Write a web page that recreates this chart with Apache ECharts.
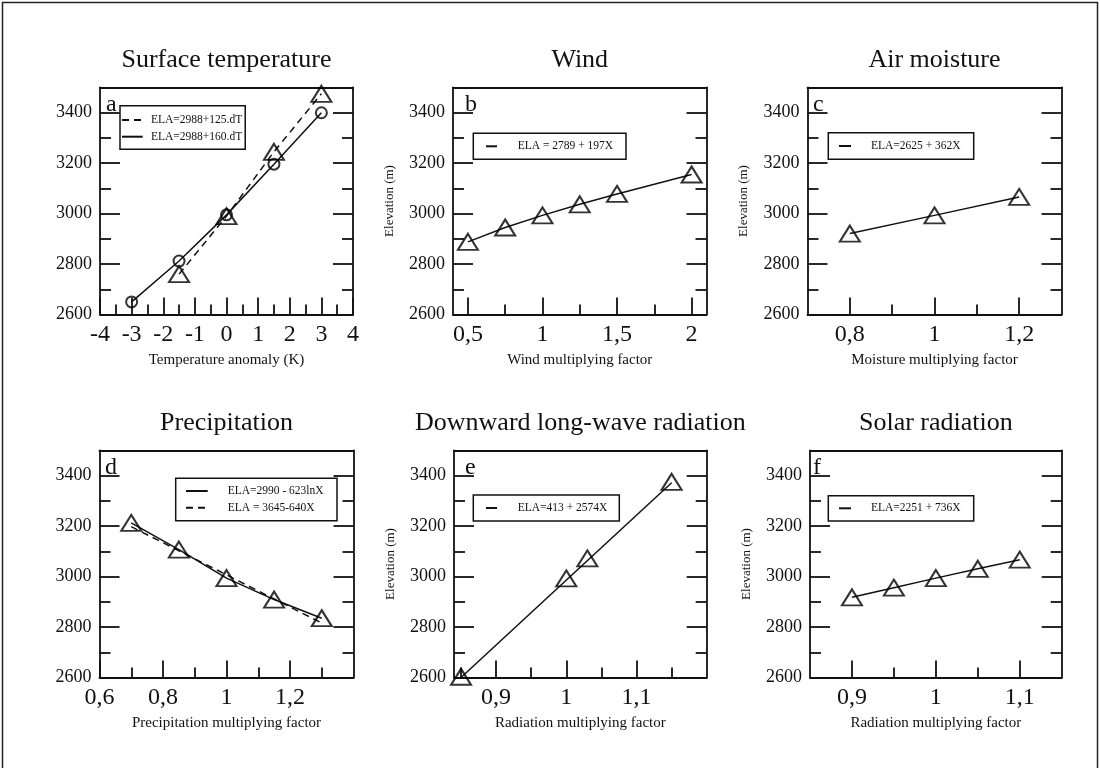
<!DOCTYPE html>
<html>
<head>
<meta charset="utf-8">
<title>ELA sensitivity</title>
<script src="https://cdn.jsdelivr.net/npm/echarts@6/dist/echarts.min.js"></script>
<style>
  html, body { margin: 0; padding: 0; background: #fff; }
  #main { width: 1100px; height: 768px; }
</style>
</head>
<body>
<div id="main"></div>
<script>
// ---- data ----
// a: surface temperature (circles = solid, triangles = dashed)
var tempCircleX = [-3, -1.5, 0, 1.5, 3];
var tempCircleY = [2650, 2812, 2995, 3196, 3400];
var tempTriX = [-1.5, 0, 1.5, 3];
var tempTriY = [2760, 2990, 3245, 3475];
// b: wind
var windX = [0.5, 0.75, 1, 1.25, 1.5, 2];
var windY = [2888, 2945, 2993, 3037, 3078, 3155];
// c: air moisture
var moistX = [0.8, 1, 1.2];
var moistY = [2921, 2993, 3066];
// d: precipitation (log fit through points, dashed linear fit)
var precX = [0.7, 0.85, 1, 1.15, 1.3];
var precY = [3213, 3107, 2994, 2909, 2835];
var precLinX = [0.7, 1.3];
var precLinY = [3198, 2816];
// e: downward long-wave radiation
var lwX = [0.85, 1, 1.03, 1.15];
var lwY = [2603, 2993, 3072, 3376];
var lwFitX = [0.85, 1.15];
var lwFitY = [2600, 3372];
// f: solar radiation
var solarX = [0.9, 0.95, 1, 1.05, 1.1];
var solarY = [2918, 2956, 2994, 3031, 3067];

// ---- ticks / labels ----
var elevTicks = [2600, 2800, 3000, 3200, 3400];
var elevMinor = [2700, 2900, 3100, 3300];
var tempTicks = [-4, -3, -2, -1, 0, 1, 2, 3, 4];
var tempMinor = [-3.5, -2.5, -1.5, -0.5, 0.5, 1.5, 2.5, 3.5];
var windTicks = [0.5, 1, 1.5, 2];
var windMinor = [0.75, 1.25, 1.75];
var moistTicks = [0.8, 1, 1.2];
var moistMinor = [0.9, 1.1];
var precTicks = [0.6, 0.8, 1, 1.2];
var precMinor = [0.7, 0.9, 1.1, 1.3];
var lwTicks = [0.9, 1, 1.1];
var lwMinor = [0.85, 0.95, 1.05, 1.15];
var solarTicks = [0.9, 1, 1.1];
var solarMinor = [0.95, 1.05];

var SERIF = '"Liberation Serif", "DejaVu Serif", serif';
var INK = '#111';

function pairs(xs, ys) {
  return xs.map(function (x, i) { return [x, ys[i]]; });
}
function comma(v) {
  return String(v).replace('.', ',');
}
function plain(v) {
  return String(v);
}

var panels = [
  { title: 'Surface temperature', letter: 'a', left: 100, top: 87.5, width: 253, xmin: -4, xmax: 4,
    major: tempTicks, minor: tempMinor, labels: tempTicks, xname: 'Temperature anomaly (K)', yname: '',
    letterX: 106 },
  { title: 'Wind', letter: 'b', left: 453, top: 87.5, width: 253.5, xmin: 0.4, xmax: 2.1,
    major: windTicks, minor: windMinor, labels: windTicks, xname: 'Wind multiplying factor', yname: 'Elevation (m)',
    letterX: 465 },
  { title: 'Air moisture', letter: 'c', left: 807.5, top: 87.5, width: 254, xmin: 0.7, xmax: 1.3,
    major: moistTicks, minor: moistMinor, labels: moistTicks, xname: 'Moisture multiplying factor', yname: 'Elevation (m)',
    letterX: 813 },
  { title: 'Precipitation', letter: 'd', left: 99.5, top: 450.5, width: 254, xmin: 0.6, xmax: 1.4,
    major: precTicks, minor: precMinor, labels: precTicks, xname: 'Precipitation multiplying factor', yname: '',
    letterX: 105 },
  { title: 'Downward long-wave radiation', letter: 'e', left: 454, top: 450.5, width: 252.7, xmin: 0.84, xmax: 1.2,
    major: lwTicks, minor: lwMinor, labels: lwTicks, xname: 'Radiation multiplying factor', yname: 'Elevation (m)',
    letterX: 465 },
  { title: 'Solar radiation', letter: 'f', left: 810, top: 450.5, width: 251.7, xmin: 0.85, xmax: 1.15,
    major: solarTicks, minor: solarMinor, labels: solarTicks, xname: 'Radiation multiplying factor', yname: 'Elevation (m)',
    letterX: 813 }
];

var grids = [], xAxes = [], yAxes = [], titles = [], graphics = [];
var lineStyle = { color: INK, width: 1.8 };

panels.forEach(function (p, g) {
  grids.push({ left: p.left, top: p.top, width: p.width, height: 227 });
  titles.push({
    text: p.title, left: p.left + p.width / 2, top: p.top - 40.5, textAlign: 'center', padding: 0,
    textStyle: { fontFamily: SERIF, fontSize: 26, fontWeight: 'normal', color: INK }
  });
  graphics.push({
    type: 'text', x: p.letterX, y: p.top + 17, z: 10,
    style: { text: p.letter, font: '24px ' + SERIF, fill: INK, verticalAlign: 'middle' }
  });

  // bottom axis with labels and long ticks
  xAxes.push({
    gridIndex: g, type: 'value', min: p.xmin, max: p.xmax, position: 'bottom',
    axisLine: { show: true, onZero: false, lineStyle: lineStyle },
    axisTick: { show: true, inside: true, length: 17, customValues: p.major, lineStyle: lineStyle },
    axisLabel: { show: true, customValues: p.labels, margin: 8, formatter: comma,
      fontFamily: SERIF, fontSize: 24, color: INK },
    splitLine: { show: false },
    name: p.xname, nameLocation: 'middle', nameGap: 38,
    nameTextStyle: { fontFamily: SERIF, fontSize: 15, color: INK }
  });
  // bottom minor ticks
  xAxes.push({
    gridIndex: g, type: 'value', min: p.xmin, max: p.xmax, position: 'bottom',
    axisLine: { show: false, onZero: false },
    axisTick: { show: true, inside: true, length: 10, customValues: p.minor, lineStyle: lineStyle },
    axisLabel: { show: false }, splitLine: { show: false }
  });
  // top frame
  xAxes.push({
    gridIndex: g, type: 'value', min: p.xmin, max: p.xmax, position: 'top',
    axisLine: { show: true, onZero: false, lineStyle: lineStyle },
    axisTick: { show: false }, axisLabel: { show: false }, splitLine: { show: false }
  });

  // left axis
  yAxes.push({
    gridIndex: g, type: 'value', min: 2600, max: 3500, position: 'left',
    axisLine: { show: true, onZero: false, lineStyle: lineStyle },
    axisTick: { show: true, inside: true, length: 20, customValues: elevTicks, lineStyle: lineStyle },
    axisLabel: { show: true, customValues: elevTicks, margin: 8, formatter: plain,
      fontFamily: SERIF, fontSize: 18, color: INK },
    splitLine: { show: false },
    name: p.yname, nameLocation: 'middle', nameGap: 57,
    nameTextStyle: { fontFamily: SERIF, fontSize: 13, color: INK }
  });
  yAxes.push({
    gridIndex: g, type: 'value', min: 2600, max: 3500, position: 'left',
    axisLine: { show: false, onZero: false },
    axisTick: { show: true, inside: true, length: 11, customValues: elevMinor, lineStyle: lineStyle },
    axisLabel: { show: false }, splitLine: { show: false }
  });
  // right axis (ticks only)
  yAxes.push({
    gridIndex: g, type: 'value', min: 2600, max: 3500, position: 'right',
    axisLine: { show: true, onZero: false, lineStyle: lineStyle },
    axisTick: { show: true, inside: true, length: 20, customValues: elevTicks, lineStyle: lineStyle },
    axisLabel: { show: false }, splitLine: { show: false }
  });
  yAxes.push({
    gridIndex: g, type: 'value', min: 2600, max: 3500, position: 'right',
    axisLine: { show: false, onZero: false },
    axisTick: { show: true, inside: true, length: 11, customValues: elevMinor, lineStyle: lineStyle },
    axisLabel: { show: false }, splitLine: { show: false }
  });
});

function markers(g, xs, ys, symbol) {
  return {
    type: 'scatter', xAxisIndex: 3 * g, yAxisIndex: 4 * g, data: pairs(xs, ys),
    symbol: symbol, symbolSize: symbol === 'circle' ? 11 : [20, 16],
    itemStyle: { color: 'rgba(0,0,0,0)', borderColor: '#000', borderWidth: 2 },
    z: 3, silent: true
  };
}
function fitLine(g, name, xs, ys, dashed) {
  return {
    type: 'line', name: name, xAxisIndex: 3 * g, yAxisIndex: 4 * g, data: pairs(xs, ys),
    symbol: 'none', lineStyle: { color: INK, width: 1.5, type: dashed ? [7, 5] : 'solid' },
    itemStyle: { color: INK }, z: 2, silent: true
  };
}

var series = [
  fitLine(0, 'ELA=2988+125.dT', tempTriX, tempTriY, true),
  fitLine(0, 'ELA=2988+160.dT', tempCircleX, tempCircleY, false),
  markers(0, tempTriX, tempTriY, 'triangle'),
  markers(0, tempCircleX, tempCircleY, 'circle'),
  fitLine(1, 'ELA = 2789 + 197X', windX, windY, false),
  markers(1, windX, windY, 'triangle'),
  fitLine(2, 'ELA=2625 + 362X', moistX, moistY, false),
  markers(2, moistX, moistY, 'triangle'),
  fitLine(3, 'ELA=2990 - 623lnX', precX, precY, false),
  fitLine(3, 'ELA = 3645-640X', precLinX, precLinY, true),
  markers(3, precX, precY, 'triangle'),
  fitLine(4, 'ELA=413 + 2574X', lwFitX, lwFitY, false),
  markers(4, lwX, lwY, 'triangle'),
  fitLine(5, 'ELA=2251 + 736X', solarX, solarY, false),
  markers(5, solarX, solarY, 'triangle')
];

// legend boxes: outer box, line sample span and text start
function legendBox(names, b) {
  var L = 14;
  var n = names.length;
  var padTop = b.row0 - b.y - L / 2;
  var gap = n > 1 ? b.rowStep - L : 0;
  var padBottom = b.h - padTop - n * L - (n - 1) * gap;
  var padLeft = b.lineX0 - b.x;
  var textPad = b.textX - b.lineX1 - 5;
  var textW = b.x + b.w - b.textX - 3;
  return {
    orient: 'vertical', left: b.x, top: b.y,
    padding: [padTop, 3, padBottom, padLeft],
    itemGap: gap, itemWidth: b.lineX1 - b.lineX0, itemHeight: L,
    selectedMode: false, borderColor: INK, borderWidth: 1.5, borderRadius: 0,
    itemStyle: { opacity: 0 },
    data: names,
    textStyle: { fontFamily: SERIF, fontSize: 11.5, color: INK, width: textW,
      padding: [0, 0, 0, textPad], lineHeight: 14 }
  };
}

var legends = [
  legendBox(['ELA=2988+125.dT', 'ELA=2988+160.dT'],
    { x: 120, y: 105.7, w: 123, h: 43.6, row0: 120, rowStep: 16.7, lineX0: 121, lineX1: 141.7, textX: 150 }),
  legendBox(['ELA = 2789 + 197X'],
    { x: 473.3, y: 133.3, w: 151.7, h: 26, row0: 146.3, lineX0: 485, lineX1: 496, textX: 516.7 }),
  legendBox(['ELA=2625 + 362X'],
    { x: 828.3, y: 132.7, w: 144.4, h: 26.6, row0: 146, lineX0: 838, lineX1: 850, textX: 870 }),
  legendBox(['ELA=2990 - 623lnX', 'ELA = 3645-640X'],
    { x: 175.7, y: 478.3, w: 160.3, h: 42.4, row0: 491, rowStep: 16.7, lineX0: 185, lineX1: 206.7, textX: 226.7 }),
  legendBox(['ELA=413 + 2574X'],
    { x: 473.3, y: 495, w: 145, h: 26, row0: 508, lineX0: 485, lineX1: 496, textX: 516.7 }),
  legendBox(['ELA=2251 + 736X'],
    { x: 828.3, y: 495.7, w: 144.4, h: 25.3, row0: 508.3, lineX0: 838, lineX1: 850, textX: 870 })
];

// outer frame of the figure
graphics.push({
  type: 'rect', shape: { x: 2.5, y: 2.5, width: 1095, height: 820 }, silent: true,
  style: { fill: 'none', stroke: '#222', lineWidth: 1.5 }
});

var chart = echarts.init(document.getElementById('main'), null, { renderer: 'canvas' });
chart.setOption({
  animation: false,
  backgroundColor: '#fff',
  title: titles,
  grid: grids,
  xAxis: xAxes,
  yAxis: yAxes,
  legend: legends,
  graphic: graphics,
  series: series
});
</script>
</body>
</html>
